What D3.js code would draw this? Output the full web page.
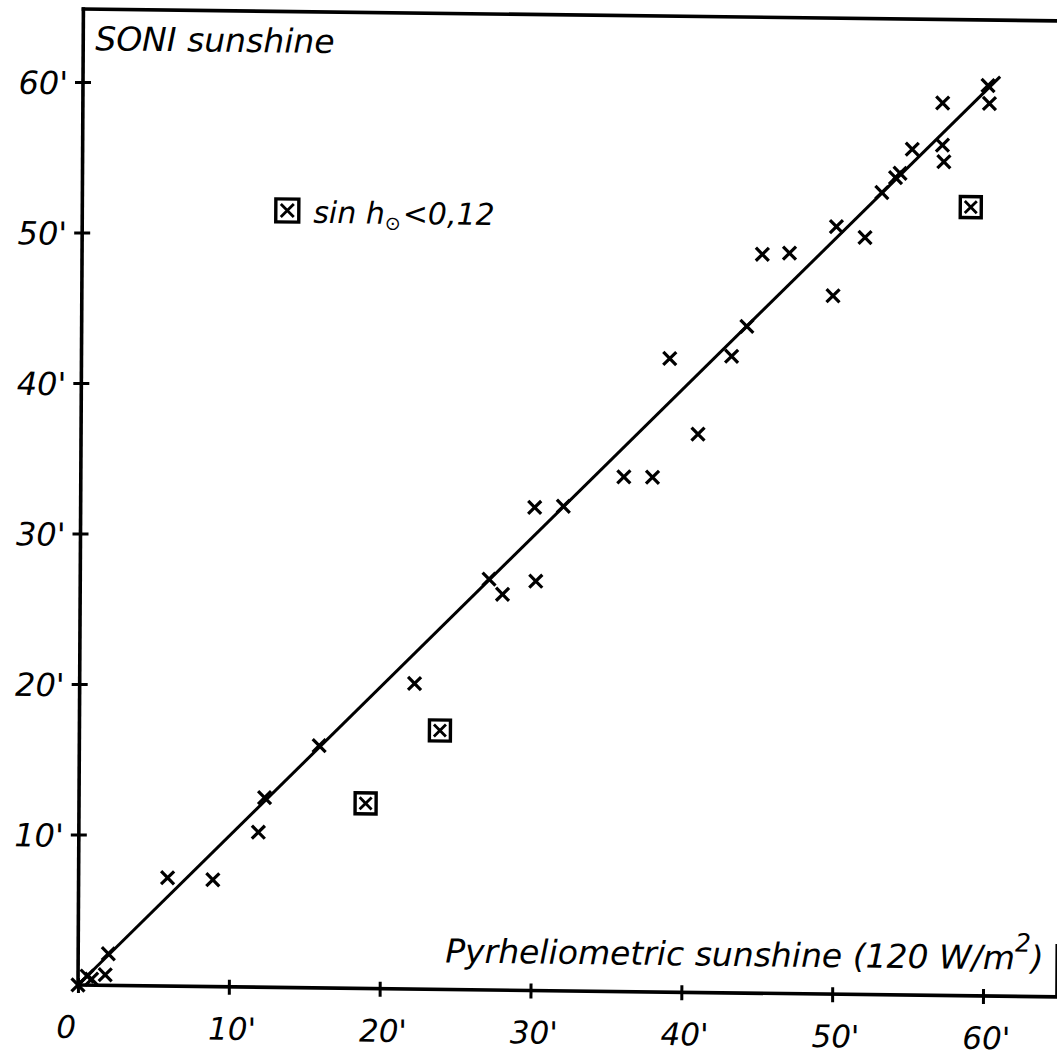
<!DOCTYPE html>
<html>
<head>
<meta charset="utf-8">
<script src="https://cdn.jsdelivr.net/npm/d3@7"></script>
<style>
  html, body { margin: 0; padding: 0; background: #fff; }
  svg { display: block; }
  text { font-family: "DejaVu Sans", sans-serif; font-style: italic; fill: #000; }
</style>
</head>
<body>
<svg id="chart" width="1057" height="1056"></svg>
<script>
// ---- data (minutes) ----
const xTicks = [0, 10, 20, 30, 40, 50, 60];
const xTickLabels = ["0", "10'", "20'", "30'", "40'", "50'", "60'"];
const yTicks = [10, 20, 30, 40, 50, 60];
const yTickLabels = ["10'", "20'", "30'", "40'", "50'", "60'"];

// pyrheliometric sunshine (x) vs SONI sunshine (y), ordinary points
const crossX = [0, 0.6, 0.9, 1.8, 2.0, 5.9, 8.9, 11.9, 12.3, 15.9, 22.2, 27.1, 28.0, 30.1, 30.2, 32.0,
                36.0, 37.9, 39.0, 40.9, 43.1, 44.1, 45.1, 46.9, 49.8, 50.0, 51.9, 53.0, 53.9, 54.2,
                55.0, 57.0, 57.0, 57.1, 60.0, 60.1];
const crossY = [0, 0.6, 0.4, 0.7, 2.1, 7.2, 7.1, 10.3, 12.6, 16.1, 20.3, 27.3, 26.3, 32.1, 27.2, 32.2,
                34.2, 34.2, 42.1, 37.1, 42.3, 44.3, 49.1, 49.2, 46.4, 51.0, 50.3, 53.3, 54.3, 54.6,
                56.2, 59.3, 56.5, 55.4, 60.5, 59.3];
// points with sin h < 0.12 (boxed)
const boxX = [19.0, 23.9, 58.9];
const boxY = [12.3, 17.2, 52.4];
// drawn fit line
const fitX = [0, 60.8];
const fitY = [0, 61.1];
// frame extent
const frameMax = 64.85;
const rightEdgeTop = 3.45;

const svg = d3.select("#chart");
// slight skew of the scanned drawing
const g = svg.append("g").attr("transform", "matrix(1,0.01215,-0.00554,1,78,985)");

const x = d3.scaleLinear().domain([0, 60]).range([0, 905]);
const y = d3.scaleLinear().domain([0, 60]).range([0, -903]);

const ink = "#000";
const axisW = 3.6;

// frame lines
const frame = [
  [[0, 0], [0, frameMax]],
  [[0, frameMax], [frameMax + 2, frameMax]],
  [[0, 0], [frameMax, 0]],
  [[frameMax, 0], [frameMax, rightEdgeTop]]
];
g.selectAll("line.frame").data(frame).enter().append("line")
  .attr("class", "frame")
  .attr("x1", d => x(d[0][0])).attr("y1", d => y(d[0][1]))
  .attr("x2", d => x(d[1][0])).attr("y2", d => y(d[1][1]))
  .attr("stroke", ink).attr("stroke-width", (d, i) => i === 3 ? 2 : axisW).attr("stroke-linecap", "square");

// x axis
const xAxis = d3.axisBottom(x).tickValues(xTicks)
  .tickFormat((d, i) => xTickLabels[i]).tickSize(7).tickPadding(0);
const gx = g.append("g").call(xAxis);
gx.select(".domain").remove();
gx.selectAll(".tick line").attr("y1", -7).attr("y2", 8)
  .attr("stroke", ink).attr("stroke-width", 3);
gx.selectAll(".tick text")
  .attr("y", 53).attr("dy", 0)
  .attr("dx", d => d === 0 ? -12 : 3)
  .attr("font-size", 31)
  .style("font-family", '"DejaVu Sans", sans-serif').style("font-style", "italic");

// y axis
const yAxis = d3.axisLeft(y).tickValues(yTicks)
  .tickFormat((d, i) => yTickLabels[i]).tickSize(7).tickPadding(0);
const gy = g.append("g").call(yAxis);
gy.select(".domain").remove();
gy.selectAll(".tick line").attr("x1", -8).attr("x2", 8)
  .attr("stroke", ink).attr("stroke-width", 3);
gy.selectAll(".tick text")
  .attr("x", -15).attr("dy", 12)
  .attr("font-size", 32)
  .style("font-family", '"DejaVu Sans", sans-serif').style("font-style", "italic");

// fit line
g.append("line")
  .attr("x1", x(fitX[0])).attr("y1", y(fitY[0]))
  .attr("x2", x(fitX[1])).attr("y2", y(fitY[1]))
  .attr("stroke", ink).attr("stroke-width", 3);

// cross markers
const cs = 6.5;
const crosses = crossX.map((v, i) => [v, crossY[i]]);
const cg = g.append("g");
crosses.forEach(p => {
  const px = x(p[0]), py = y(p[1]);
  cg.append("path")
    .attr("d", `M${px - cs},${py - cs}L${px + cs},${py + cs}M${px - cs},${py + cs}L${px + cs},${py - cs}`)
    .attr("stroke", ink).attr("stroke-width", 3.2).attr("fill", "none");
});

// boxed markers
function boxMarker(sel, px, py, half, inner) {
  sel.append("rect")
    .attr("x", px - half).attr("y", py - half)
    .attr("width", 2 * half).attr("height", 2 * half)
    .attr("fill", "none").attr("stroke", ink).attr("stroke-width", 3.4);
  sel.append("path")
    .attr("d", `M${px - inner},${py - inner}L${px + inner},${py + inner}M${px - inner},${py + inner}L${px + inner},${py - inner}`)
    .attr("stroke", ink).attr("stroke-width", 2.8).attr("fill", "none");
}
const bg = g.append("g");
boxX.forEach((v, i) => boxMarker(bg, x(v), y(boxY[i]), 10.5, 6));

// y axis title
g.append("text")
  .attr("x", 12).attr("y", y(frameMax) + 41)
  .attr("font-size", 33)
  .text("SONI sunshine");

// x axis title
const xt = g.append("text")
  .attr("x", 367).attr("y", -27)
  .attr("font-size", 33);
xt.append("tspan").text("Pyrheliometric sunshine (120 W/m");
xt.append("tspan").attr("font-size", 25).attr("dy", -18).text("2");
xt.append("tspan").attr("dy", 18).text(")");

// legend
const lg = g.append("g");
boxMarker(lg, 205, -777, 11.5, 6.5);
const lt = lg.append("text").attr("x", 231).attr("y", -765).attr("font-size", 30);
lt.append("tspan").text("sin h");
lt.append("tspan").attr("font-size", 19).attr("dy", 6).attr("dx", 0).style("font-style", "normal").text("⊙");
lt.append("tspan").attr("dy", -6).attr("dx", 2).text("<0,12");
</script>
</body>
</html>
